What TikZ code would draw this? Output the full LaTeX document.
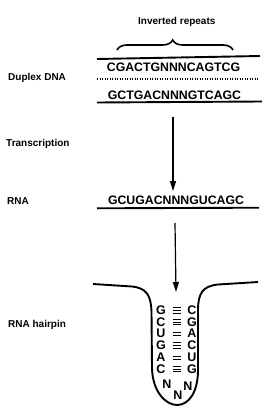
\documentclass[tikz,border=0pt]{standalone}
\usepackage{fontspec}
\setmainfont{Liberation Sans}
\usetikzlibrary{decorations.pathreplacing,arrows.meta}
\begin{document}
\begin{tikzpicture}[x=1pt,y=-1pt,
 lbl/.style={font=\fontsize{10}{12}\selectfont\bfseries, anchor=base west, inner sep=0},
 seq/.style={font=\fontsize{12.3}{14}\selectfont\bfseries, inner sep=0},
 base/.style={font=\fontsize{12.5}{14}\selectfont\bfseries, inner sep=0},
 strand/.style={line width=1.9pt},
 bond/.style={line width=1pt},
 arr/.style={line width=1.2pt,-{Triangle[length=10pt,width=6pt]}}]
\useasboundingbox (0,0) rectangle (271,412);
% labels
\node[lbl] (inv) at (138,25) {Inverted repeats};
\node[lbl] (dup) at (8,80) {Duplex DNA};
\node[lbl] (tra) at (6,146) {Transcription};
\node[lbl] (rna) at (7,204) {RNA};
\node[lbl] (hp) at (8,327) {RNA hairpin};
% brace
\draw[line width=1.6pt, decorate, decoration={brace, amplitude=10pt, aspect=0.48}] (117,50) -- (233,50);
% duplex
\draw[strand] (97,59) -- (260,56);
\node[seq] (s1) at (173.5,67) {CGACTGNNNCAGTCG};
\draw[line width=1.3pt, dash pattern=on 1pt off 1.5pt] (97,79) -- (258,79);
\node[seq] (s2) at (174.5,95) {GCTGACNNNGTCAGC};
\draw[strand] (97,102.5) -- (262,101.5);
% arrow 1
\coordinate (a1s) at (173,117);
\coordinate (a1e) at (173,191);
\draw[arr] (a1s) -- (a1e);
% RNA
\node[seq] (s3) at (176,200) {GCUGACNNNGUCAGC};
\draw[strand] (97,208.3) -- (259,207.7);
% arrow 2
\coordinate (a2s) at (175,223);
\coordinate (a2e) at (176,292);
\draw[arr] (a2s) -- (a2e);
% hairpin backbone
\draw[strand] (93,284) -- (132,286.5) .. controls (147,288) and (151,296) .. (151.5,312)
  -- (152,368) .. controls (152.5,392) and (166,405) .. (177,405)
  .. controls (189,405) and (198,392) .. (198,370) -- (198,310)
  .. controls (198,293) and (203,286) .. (218,284.5) -- (258,282);
% left strand
\node[base] (l1) at (161,310.5) {G};
\node[base] (l2) at (161,322) {C};
\node[base] (l3) at (161,333.5) {U};
\node[base] (l4) at (161,345.5) {G};
\node[base] (l5) at (161,357.5) {A};
\node[base] (l6) at (161,369) {C};
% right strand
\node[base] (r1) at (192,310.5) {C};
\node[base] (r2) at (192,322) {G};
\node[base] (r3) at (192,333.5) {A};
\node[base] (r4) at (192,345.5) {C};
\node[base] (r5) at (192,357.5) {U};
\node[base] (r6) at (192,369) {G};
% loop
\node[base] (n1) at (167,384) {N};
\node[base] (n2) at (188,386) {N};
\node[base] (n3) at (178,395) {N};
% bonds
\foreach \y/\k in {310.5/3,322/3,333.5/2,345.5/3,357.5/2,369/3}{
  \ifnum\k=3
    \draw[bond] (172.5,\y-2.6) -- (180.5,\y-2.6);
    \draw[bond] (172.5,\y) -- (180.5,\y);
    \draw[bond] (172.5,\y+2.6) -- (180.5,\y+2.6);
  \else
    \draw[bond] (172.5,\y-1.5) -- (180.5,\y-1.5);
    \draw[bond] (172.5,\y+1.5) -- (180.5,\y+1.5);
  \fi
}
\end{tikzpicture}
\end{document}
